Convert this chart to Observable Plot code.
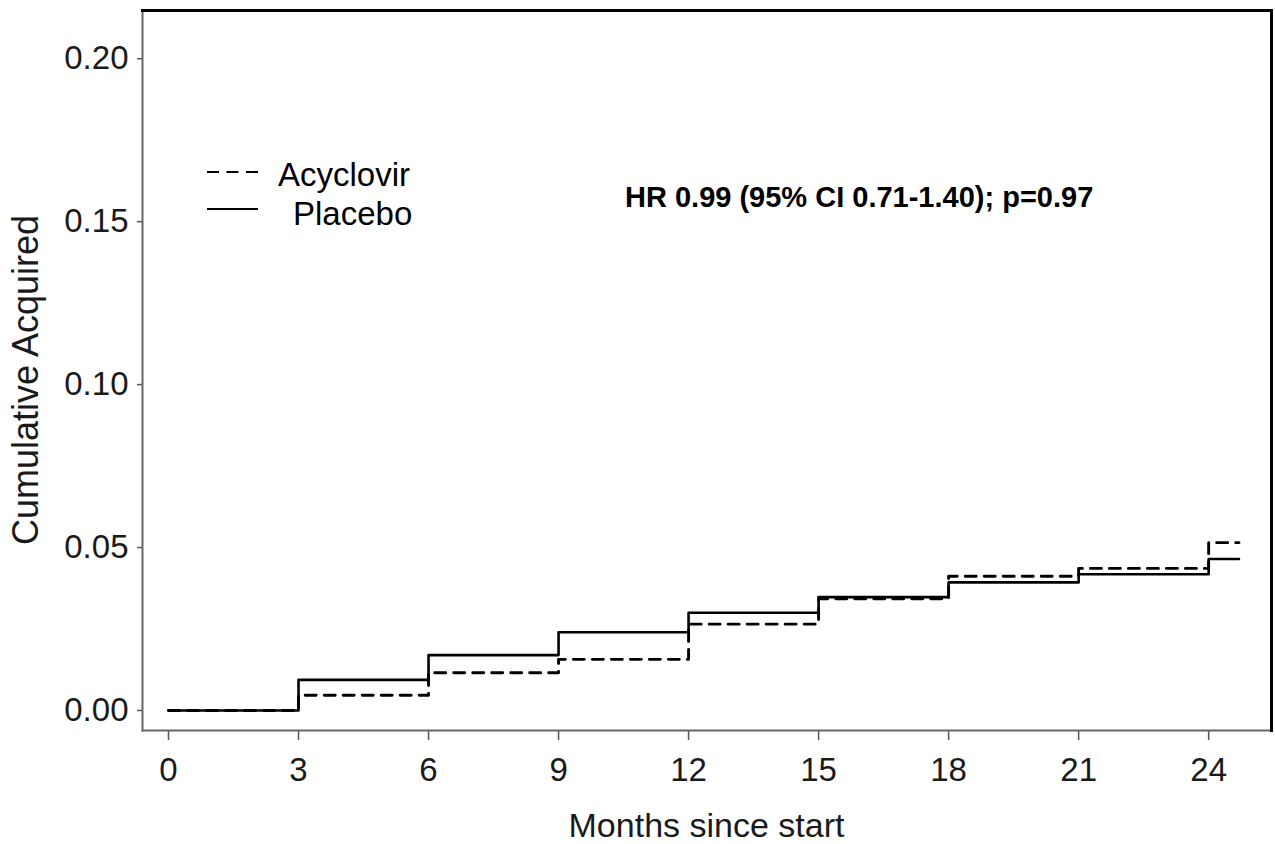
<!DOCTYPE html>
<html>
<head>
<meta charset="utf-8">
<script src="https://cdn.jsdelivr.net/npm/d3@7"></script>
<script src="https://cdn.jsdelivr.net/npm/@observablehq/plot@0.6"></script>
<style>
  html, body { margin: 0; padding: 0; background: #fff; }
  #chart { width: 1275px; height: 844px; }
  svg { font-family: "Liberation Sans", Arial, sans-serif; }
</style>
</head>
<body>
<div id="chart"></div>
<script>
// ---- data ----
const months    = [0, 3, 6, 9, 12, 15, 18, 21, 24, 24.7];
const acyclovir = [0, 0.0047, 0.0116, 0.0157, 0.0265, 0.0343, 0.0412, 0.0436, 0.0515, 0.0515];
const placebo   = [0, 0.0094, 0.0170, 0.0240, 0.0300, 0.0348, 0.0393, 0.0418, 0.0465, 0.0465];
const seriesNames = ["Acyclovir", "Placebo"];
const xTicks = [0, 3, 6, 9, 12, 15, 18, 21, 24];
const yTicks = [0, 0.05, 0.10, 0.15, 0.20];
const xDomain = [-0.6, 25.45];
const yDomain = [-0.00614, 0.2148];
const xLabel = "Months since start";
const yLabel = "Cumulative Acquired";
const annotation = "HR 0.99 (95% CI 0.71-1.40); p=0.97";

const rowsA = months.map((m, i) => ({month: m, value: acyclovir[i], group: seriesNames[0]}));
const rowsP = months.map((m, i) => ({month: m, value: placebo[i], group: seriesNames[1]}));

const FONT = '"Liberation Sans", Arial, sans-serif';

// decorations: legend, annotation, axis titles
function decorations(index, scales, values, dimensions) {
  const g = d3.create("svg:g").attr("font-family", FONT).attr("fill", "#000")
    .attr("text-anchor", "start");
  // legend
  g.append("line").attr("x1", 207).attr("x2", 258).attr("y1", 172).attr("y2", 172)
    .attr("stroke", "#000").attr("stroke-width", 2.2).attr("stroke-dasharray", "12,7.5");
  g.append("line").attr("x1", 207).attr("x2", 258).attr("y1", 209).attr("y2", 209)
    .attr("stroke", "#000").attr("stroke-width", 2.2);
  g.append("text").attr("x", 278).attr("y", 186).attr("font-size", 33)
    .attr("text-anchor", "start").text(seriesNames[0]);
  g.append("text").attr("x", 293).attr("y", 225).attr("font-size", 33)
    .attr("text-anchor", "start").text(seriesNames[1]);
  // annotation
  g.append("text").attr("x", 625).attr("y", 207).attr("font-size", 29)
    .attr("font-weight", "bold").attr("text-anchor", "start").text(annotation);
  // axis titles
  const cx = (dimensions.marginLeft + dimensions.width - dimensions.marginRight) / 2;
  g.append("text").attr("x", cx).attr("y", 837).attr("text-anchor", "middle")
    .attr("font-size", 34).attr("fill", "#1a1a1a").text(xLabel);
  g.append("text").attr("transform", "translate(38,380) rotate(-90)")
    .attr("text-anchor", "middle").attr("font-size", 36).attr("fill", "#1a1a1a").text(yLabel);
  return g.node();
}

const chart = Plot.plot({
  width: 1275,
  height: 844,
  marginLeft: 142,
  marginRight: 4,
  marginTop: 10,
  marginBottom: 114,
  style: {fontFamily: FONT, background: "#fff", color: "#000", overflow: "visible"},
  x: {domain: xDomain},
  y: {domain: yDomain},
  marks: [
    Plot.axisX({
      ticks: xTicks, tickSize: 10, tickPadding: 17, fontSize: 33,
      stroke: "#555", strokeWidth: 1.5, label: null, fill: "#1a1a1a",
      tickFormat: d => String(d)
    }),
    Plot.axisY({
      ticks: yTicks, tickSize: 5, tickPadding: 9, fontSize: 33,
      stroke: "#555", strokeWidth: 1.5, label: null, fill: "#1a1a1a",
      tickFormat: d3.format(".2f")
    }),
    Plot.line(rowsP, {x: "month", y: "value", curve: "step-after", stroke: "#000", strokeWidth: 2.6}),
    Plot.line(rowsA, {x: "month", y: "value", curve: "step-after", stroke: "#000", strokeWidth: 2.9, strokeDasharray: "11,8"}),
    Plot.frame({anchor: "left", stroke: "#666", strokeWidth: 2}),
    Plot.frame({anchor: "bottom", stroke: "#666", strokeWidth: 2}),
    Plot.frame({anchor: "top", stroke: "#000", strokeWidth: 3}),
    Plot.frame({anchor: "right", stroke: "#000", strokeWidth: 3}),
    decorations
  ]
});

document.getElementById("chart").appendChild(chart);
</script>
</body>
</html>
